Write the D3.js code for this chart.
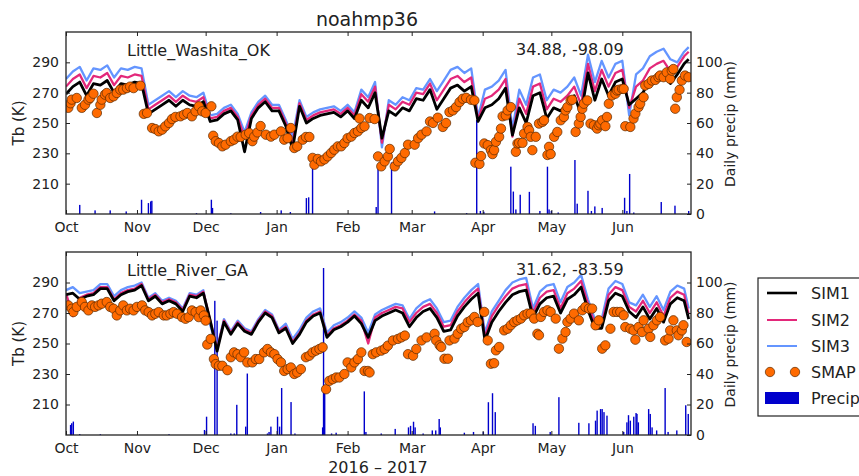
<!DOCTYPE html>
<html>
<head>
<meta charset="utf-8">
<script src="https://cdn.jsdelivr.net/npm/d3@7"></script>
<style>
  html, body { margin: 0; padding: 0; background: #fff; }
  svg text { font-family: "DejaVu Sans", sans-serif; fill: #222; }
</style>
</head>
<body>
<svg id="chart" width="859" height="476"></svg>
<script>
// days counted from 2016-10-01; simulations are sampled every 3 days
const simDays = d3.range(0, 271, 3).concat([272]);

const sim1LW = [269,274,277,268,276,275,278,270,276,275,277,276,
  256,259,262,265,261,265,262,261,264,
  251,252,256,258,252,231,253,260,264,258,258,248,233,261,250,253,255,256,257,254,258,253,
  265,260,270,240,258,255,260,258,266,265,272,259,266,273,275,271,274,251,
  260,262,266,273,242,260,250,268,270,253,260,258,262,268,256,283,265,279,268,277,279,
  262,266,270,278,281,283,276,282,289,292];
const sim2LW = [274,279,282,273,281,280,283,275,281,280,282,281,
  259,262,265,268,264,268,265,264,267,
  253,254,258,260,254,240,255,262,266,260,260,250,237,263,252,255,257,258,259,256,260,255,
  269,264,274,237,262,259,264,262,270,269,276,265,272,279,281,277,280,252,
  266,268,272,279,241,266,256,274,276,259,266,264,268,274,262,289,271,285,274,283,285,
  260,274,278,286,289,291,284,287,294,297];
const sim3LW = [279,284,287,278,286,285,288,280,286,285,287,286,
  262,265,268,271,267,271,268,267,270,
  255,256,260,262,256,244,257,264,268,262,262,252,241,265,254,257,259,260,261,258,262,257,
  272,267,277,234,265,262,267,265,273,272,279,271,278,285,287,283,286,254,
  272,274,278,285,246,272,262,280,282,265,272,270,274,280,268,295,277,291,280,289,291,
  255,282,286,294,297,299,292,290,297,300];

const sim1LR = [282,283,279,281,282,286,286,278,282,284,285,288,
  278,281,276,278,276,271,281,280,283,
  265,245,264,256,263,258,256,264,270,267,257,260,250,256,264,268,270,254,259,261,264,268,
  263,254,265,268,270,272,270,261,267,271,273,267,258,259,268,274,279,283,
  252,264,271,277,282,284,285,267,276,280,281,270,279,282,287,272,260,260,278,283,281,
  271,267,274,266,273,264,276,280,278,266];
const sim2LR = [283,268,280,282,283,287,287,279,283,285,286,289,
  279,282,277,279,277,272,282,281,284,
  265,246,265,257,264,259,257,265,271,268,258,261,251,257,265,269,271,255,260,262,265,269,
  265,250,267,270,272,274,273,264,270,274,276,270,261,262,271,277,282,286,
  254,268,275,281,286,288,289,270,280,284,285,273,283,286,291,276,263,263,282,287,285,
  274,271,278,270,277,268,280,284,282,269];
const sim3LR = [285,287,283,284,285,289,289,281,285,287,288,290,
  280,283,278,280,278,273,283,282,285,
  262,247,266,258,265,260,258,266,272,269,259,263,253,259,267,271,273,257,262,264,267,271,
  267,257,269,272,274,276,275,266,273,277,279,273,264,265,274,280,285,289,
  257,271,278,285,290,292,293,273,284,288,289,277,287,290,295,279,266,266,286,291,289,
  277,275,282,274,281,272,284,288,286,273];

// SMAP observations [day, Tb]
const smapLW = [[1,260],[2,263],[2.5,265.4],[4.7,266.5],[6.9,260],[8.3,262],[9.8,265.4],[10.5,266.5],[12,269.3],[13.5,256.6],
  [15,262],[15.6,265.4],[17,268.7],[17.8,269.8],[19.3,266.5],[20.8,267.6],[22.2,269.8],[23.7,272],[25,272],[26.6,273],
  [28,274],[29.5,273],[32.5,274.6],[34,256],[35.4,256.6],[37.6,246.7],[39,246],[40.5,244.5],[42,245.6],[43.4,247.8],
  [45,250],[46.3,252.6],[47.8,254],[50,254.4],[51.5,255.5],[53,256.6],[55,254.4],[56.6,257.7],[58,261],[59.5,257.7],
  [61,256.6],[63.5,261],[64.3,241.6],[65.4,238],[66.8,236.8],[68.3,234.6],[69.7,235.7],[72,238],[73.4,239],[74.9,241],
  [76.3,240.8],[78.5,242.3],[80,243.4],[81.4,238],[82.2,241],[83.6,243.8],[85,248],[87.3,242.3],[89.5,241],[91,242.3],
  [93.9,244.5],[95.3,239],[96.8,240],[98.2,246.7],[99.7,233.5],[101,234.6],[103.4,239],[104.8,240.8],[106.3,240.8],
  [107.7,227],[108.5,222.5],[110,226.3],[111.4,224.7],[112.9,226],[114.3,228],[115.8,230.2],[117.2,232.4],[118.7,234.6],
  [120.2,234.6],[121.6,236.8],[123,240],[124.6,241],[126,243.4],[127.5,244.5],[128.2,253],[129,246.7],[130.4,247.8],
  [132.6,253.3],[134.8,252.6],[136.3,228],[137.7,221.4],[139.2,224.7],[140.6,228],[141.4,232.9],[143.6,221.4],[145,224.7],
  [146.5,227],[148,230.2],[149.4,235.7],[152.3,235.7],[153.8,240],[155.3,242.3],[157.5,244.5],[159,251],
  [160.3,250],[162.4,253.5],[164.6,247.4],[166,250],[167.5,257.2],[169,258.3],[170.4,260.5],[171.9,263.8],[173.3,266],
  [174.8,266.6],[176.9,265.3],[178.4,264.9],[178.8,223.8],[180.6,223],[181.3,228.2],[182.7,236.5],[184.2,235.4],
  [185.6,232.1],[186.3,229.5],[187,232.1],[187.8,237.6],[189.2,240.9],[190,246.3],[190.7,254.4],[192.1,255],[192.9,258.3],
  [194.3,260.5],[196.5,231],[197.2,236.5],[197.9,236.9],[199.4,236.9],[200.1,243],[201.6,247.4],[202.3,245.2],[203,240.9],
  [203.7,232.1],[205.2,240.9],[206.6,249.6],[208.1,250.7],[208.8,251.8],[210.3,228.9],[211,234.3],[211.7,229.5],
  [213.2,240.9],[214.6,244.1],[216.1,251.8],[217.5,254],[218.2,258.3],[219,260.5],[220.4,264.9],[221.1,265.3],
  [222.6,244.1],[224,249.6],[224.8,254],[225.5,259.4],[226.2,262.7],[227.7,264.9],[229.1,249.6],[230.6,248.5],[232,246.3],
  [232.7,248.5],[233.4,249.6],[234.2,251.8],[235.6,247.9],[236.3,254],[237.1,262.7],[238.5,268.2],[240,269.3],
  [240.7,271.4],[241.4,271.9],[242.9,272.5],[243.6,272.5],[244.3,247.9],[246.5,247.4],[247.9,252.9],[248.7,256.2],
  [250.1,260.5],[250.8,262.7],[252.3,267],[253,274.7],[254.5,275.8],[255.9,278],[257.4,278.4],[258.8,280.2],[259.5,281.3],
  [261,280.2],[262.4,283.4],[263.9,279.1],[264.6,284.5],[265.3,285.6],[266.1,259.4],[266.8,267],[268,271.9],[269,278],
  [270.4,281.3],[271.9,280.2]];

const smapLR = [[1,275],[2.5,272.8],[3.2,270.6],[4.7,274],[6.9,277.2],[8.3,274],[9.8,271.7],[11.3,275],[12.7,274],[14.2,275],
  [15.6,276.1],[17.8,277.2],[19.3,274],[20.8,272.8],[22.2,268.4],[23.7,271.7],[25,275],[26.6,271.7],[28,272.8],[29.5,271.7],
  [31,274],[33.2,275],[34.6,271.7],[36.1,270.6],[37.6,268.4],[39,269.5],[40.5,270.6],[42.7,268.4],[44,268.4],[45.6,269.5],
  [47,270.6],[48.5,269.5],[50.7,267.3],[52.2,266.2],[53.6,267.3],[55,271.7],[56.6,270.6],[58,267.3],[58.8,271.7],
  [60.2,268.4],[61,265],[61.7,249.3],[63.2,253],[64.6,239.8],[65.4,236.5],[66.8,235.4],[68.3,235.4],[70.5,232.5],[72,241],
  [73.4,244.2],[74.9,243],[76.3,241],[77.8,244.2],[79.2,237.6],[81.4,237.6],[82.9,239.8],[84.4,239.8],[86.5,244.2],
  [88,246.4],[89.5,244.2],[91,243],[92.4,239.8],[93.9,237.6],[95.3,232],[96.8,233.2],[98.2,234.3],[99.7,230],[101,231],
  [102.6,233.2],[104.8,241],[106.3,242],[107.7,244.2],[109.2,245.3],[110.7,246.4],[112.1,247.5],[113.6,220],[115,225.5],
  [116.5,226.6],[118,227.7],[119.4,227.7],[121.6,230],[123,237.6],[124.6,234.3],[126,237.6],[127.5,239.8],[129,244.2],
  [130.4,232],[131.9,232],[132.6,231],[134,243],[135.5,244.2],[137.7,245.3],[139.2,246.4],[140.6,248.6],[142.8,252],
  [145,253],[146.5,254],[148,255.2],[149.4,243],[151.6,242],[153,246.4],[155.3,252],[157.5,254],
  [161,256.4],[161.7,252],[163.2,248.8],[163.9,247.7],[165.3,240],[166.8,240],[167.5,252],[169.7,253.2],[171.1,256.4],
  [172.6,259.7],[174,260.8],[175.5,264],[176.9,265.2],[178.4,267.4],[179.8,264.1],[182.7,270.7],[184.2,252],[185.6,236.7],
  [187,237.1],[187.8,245.5],[189.2,247.7],[191.4,258.6],[192.9,259.7],[194.3,262],[195.8,264.1],[197.2,265.2],
  [198.7,266.3],[200.1,268.5],[201.6,269.6],[203,269.6],[204.5,266.3],[205.9,256.4],[206.6,255.4],[207.4,267.4],
  [208.8,270.7],[210.3,271.8],[211.7,270.7],[213.9,266.3],[215.3,246.6],[216.8,253.2],[218.2,257.5],[219,264.1],
  [220.4,266.3],[221.9,269.6],[224,265.2],[225.5,271.8],[226.9,274],[228.4,272.9],[229.8,272.9],[231.3,261.9],
  [232.7,265.2],[234.2,246.6],[235.6,248.8],[237.8,259.7],[239.2,270.7],[240.7,270.7],[242.1,270.7],[243.6,268.5],
  [244.3,260.8],[246.5,259.7],[247.9,258.6],[248.7,252.5],[250.1,260.8],[251.6,257.5],[252.3,265.2],[254.5,259.7],
  [255.2,254.3],[256.6,262],[258.1,265.2],[259.5,267.4],[261.7,252],[263.2,253.2],[263.9,258.6],[265.3,265.2],
  [266.8,258.6],[267.5,255.4],[269,258.6],[269.7,262],[271.1,251]];

// daily precipitation [day, mm]
const precipLW = [[6,6],[12.7,2.4],[19.3,2.4],[26.3,1.7],[33,9.4],[36,7.2],[37,8.3],[37.5,8.7],[57,0.6],[63.5,9.4],[64,4],
  [72,0.5],[85,1.3],[94,2.4],[98,1.3],[105,10.5],[106,11],[107.7,33],[135.5,4.6],[136.3,33],[142.2,34],[161,1.7],[175,0.6],
  [179.4,62],[181,2],[182.5,1.5],[194.3,31.2],[195.4,14.8],[196.5,3],[198.4,12.7],[202.4,14.6],[207,2],[210.3,31.2],[211,3],
  [212,2],[215,1],[222.3,35.6],[223.3,6.8],[228,15.3],[229.5,2],[231,5],[234.2,4],[244,10.7],[245,2],[246.2,26.4],[248,1],
  [260,7.9],[266,5.5],[272,2]];
const precipLR = [[2,6.6],[2.5,7.7],[3.2,8.8],[6,0.6],[15,0.5],[45,0.5],[60.5,3.3],[61.4,12],[65,88],[66,75],[72,1],[73.5,1],
  [74.6,19.8],[78.5,5.5],[79.2,40.3],[88,1],[88.7,2],[89.5,5.5],[92.4,12],[93.3,5.5],[94.2,30.8],[98.3,21.6],[100,1],
  [112.1,5],[112.5,109.5],[113,28.6],[116,1],[118,1.5],[130.3,28.6],[131,2],[137.7,1],[143.8,4],[149.6,5],[150.5,6],
  [151.8,8.7],[152.5,5],[156,1],[160,3],[161.5,3],[163,10.5],[163.5,5],[174,1.5],[178,2],[182.3,2],[184.5,21.5],
  [186.3,27.4],[187.5,15],[204,7.7],[205,6],[211.5,2],[215.3,24.8],[224,8],[228.4,7.7],[231.3,9.4],[232,16],[233.5,17],
  [234.2,17],[235,15],[236.3,12.7],[243.6,2],[245,8.3],[245.7,13],[246.5,9.4],[248,12],[249,14.4],[249.4,13.8],[250,8.3],
  [254.5,17],[255.2,13.8],[256,5],[258,3],[261.7,30.8],[263,2],[266.8,3],[270.7,19.5],[271.8,13.8]];

const tbTicks = [210, 230, 250, 270, 290];
const precipTicks = [0, 20, 40, 60, 80, 100];
const seriesNames = ["SIM1", "SIM2", "SIM3", "SMAP", "Precip"];
const colors = { SIM1: "#000000", SIM2: "#e3287a", SIM3: "#6495ff", SMAP: "#ff6a00", Precip: "#0000cc" };

const start = Date.UTC(2016, 9, 1);
const toDate = d => new Date(start + d * 864e5);

const svg = d3.select("#chart");
const left = 66, right = 691;
const x = d3.scaleUtc().domain([new Date(start), new Date(Date.UTC(2017, 6, 1))]).range([left, right]);
const monthTicks = d3.utcMonth.range(new Date(start), new Date(Date.UTC(2017, 6, 1)));

function drawPanel(top, bottom, site, coords, s1, s2, s3, smap, precip, clipId) {
  const y = d3.scaleLinear().domain([190, 310]).range([bottom, top]);
  const yp = d3.scaleLinear().domain([0, 120]).range([bottom, top]);
  const g = svg.append("g");

  svg.append("clipPath").attr("id", clipId).append("rect")
    .attr("x", left).attr("y", top).attr("width", right - left).attr("height", bottom - top);
  const plot = g.append("g").attr("clip-path", `url(#${clipId})`);

  plot.selectAll("rect.bar").data(precip).join("rect")
    .attr("x", d => x(toDate(d[0])) - 0.7)
    .attr("width", 1.4)
    .attr("y", d => yp(d[1]))
    .attr("height", d => bottom - yp(d[1]))
    .attr("fill", colors.Precip);

  const line = d3.line().x((d, i) => x(toDate(simDays[i]))).y(d => y(d));
  [[s3, "SIM3", 2.3], [s2, "SIM2", 2.3], [s1, "SIM1", 2.8]].forEach(([vals, name, w]) => {
    plot.append("path").datum(vals)
      .attr("d", line).attr("fill", "none")
      .attr("stroke", colors[name]).attr("stroke-width", w)
      .attr("stroke-linejoin", "round");
  });

  plot.selectAll("circle").data(smap).join("circle")
    .attr("cx", d => x(toDate(d[0]))).attr("cy", d => y(d[1])).attr("r", 4.7)
    .attr("fill", colors.SMAP).attr("stroke", "#5a2a00").attr("stroke-width", 0.7);

  // axes with inward ticks
  const ax = g.append("g");
  const xb = ax.append("g").attr("transform", `translate(0,${bottom})`)
    .call(d3.axisBottom(x).tickValues(monthTicks).tickFormat(d3.utcFormat("%b"))
      .tickSizeInner(-4).tickSizeOuter(0).tickPadding(8));
  const xt = ax.append("g").attr("transform", `translate(0,${top})`)
    .call(d3.axisTop(x).tickValues(monthTicks).tickFormat("").tickSizeInner(-4).tickSizeOuter(0));
  const yl = ax.append("g").attr("transform", `translate(${left},0)`)
    .call(d3.axisLeft(y).tickValues(tbTicks).tickSizeInner(-4).tickSizeOuter(0).tickPadding(7));
  const yr = ax.append("g").attr("transform", `translate(${right},0)`)
    .call(d3.axisRight(yp).tickValues(precipTicks).tickSizeInner(-4).tickSizeOuter(0).tickPadding(5));
  [xb, xt, yl, yr].forEach(a => {
    a.select(".domain").remove();
    a.selectAll("text").attr("font-family", "DejaVu Sans").attr("font-size", 14).attr("fill", "#222");
    a.selectAll("line").attr("stroke", "#222");
  });

  g.append("rect").attr("x", left).attr("y", top).attr("width", right - left).attr("height", bottom - top)
    .attr("fill", "none").attr("stroke", "#222").attr("stroke-width", 1.3);

  g.append("text").attr("x", 127).attr("y", top + 24).attr("font-size", 16).text(site);
  g.append("text").attr("x", 516).attr("y", top + 23).attr("font-size", 16).text(coords);

  const mid = (top + bottom) / 2;
  g.append("text").attr("transform", `translate(24,${mid}) rotate(-90)`)
    .attr("text-anchor", "middle").attr("font-size", 15).text("Tb (K)");
  g.append("text").attr("transform", `translate(735,${mid + 1}) rotate(-90)`)
    .attr("text-anchor", "middle").attr("font-size", 14).text("Daily precip (mm)");
}

drawPanel(32, 214, "Little_Washita_OK", "34.88, -98.09", sim1LW, sim2LW, sim3LW, smapLW, precipLW, "clipTop");
drawPanel(252, 435, "Little_River_GA", "31.62, -83.59", sim1LR, sim2LR, sim3LR, smapLR, precipLR, "clipBottom");

svg.append("text").attr("x", 367).attr("y", 26).attr("text-anchor", "middle").attr("font-size", 19).text("noahmp36");
svg.append("text").attr("x", 378).attr("y", 473).attr("text-anchor", "middle").attr("font-size", 16).text("2016 \u2013 2017");

// legend
const lg = svg.append("g");
lg.append("rect").attr("x", 758).attr("y", 278).attr("width", 200).attr("height", 138)
  .attr("fill", "#fff").attr("stroke", "#222").attr("stroke-width", 1.2);
const rowY = [293, 320, 346, 372, 398];
seriesNames.forEach((name, i) => {
  const yy = rowY[i];
  if (name === "SMAP") {
    [770, 795].forEach(cx => lg.append("circle").attr("cx", cx).attr("cy", yy).attr("r", 4.7)
      .attr("fill", colors.SMAP).attr("stroke", "#5a2a00").attr("stroke-width", 0.7));
  } else if (name === "Precip") {
    lg.append("rect").attr("x", 765).attr("y", yy - 6).attr("width", 34).attr("height", 12).attr("fill", colors.Precip);
  } else {
    lg.append("line").attr("x1", 767).attr("x2", 797).attr("y1", yy).attr("y2", yy)
      .attr("stroke", colors[name]).attr("stroke-width", name === "SIM1" ? 2.6 : 2);
  }
  lg.append("text").attr("x", 811).attr("y", yy + 6).attr("font-size", 16).text(name);
});
</script>
</body>
</html>
